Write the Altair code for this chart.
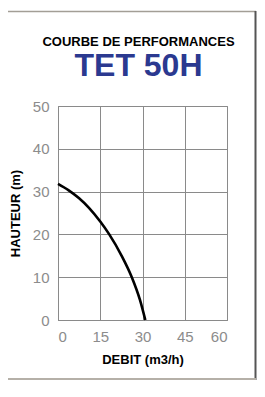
import altair as alt
import pandas as pd

# Data
debit = [0, 3.8, 7.4, 11, 15, 18.2, 22.6, 26.2, 29.1, 31]
hauteur = [31.8, 30.3, 28.5, 26.2, 23, 20, 15, 10, 4.7, 0]
x_ticks = [0, 15, 30, 45, 60]
y_ticks = [0, 10, 20, 30, 40, 50]

df = pd.DataFrame({"debit": debit, "hauteur": hauteur})
one = pd.DataFrame({"a": [0]})

FONT = "Liberation Sans"
GRID = "#8a8a8a"

curve = alt.Chart(df).mark_line(color="black", strokeWidth=2.6, interpolate="monotone").encode(
    x=alt.X("debit:Q",
            scale=alt.Scale(domain=[0, 60], nice=False, zero=False),
            axis=alt.Axis(values=x_ticks, title="DEBIT (m3/h)", grid=True, ticks=False,
                          labelPadding=9, titlePadding=9)),
    y=alt.Y("hauteur:Q",
            scale=alt.Scale(domain=[0, 50], nice=False),
            axis=alt.Axis(values=y_ticks, title="HAUTEUR (m)", grid=True, ticks=False,
                          labelPadding=9, titlePadding=10)),
)

# decorative frame around the figure
top_line = alt.Chart(one).mark_rule(color="#a39e96", strokeWidth=1.5).encode(
    x=alt.value(-51), x2=alt.value(198), y=alt.value(-94.5))
right_line = alt.Chart(one).mark_rule(color="#555555", strokeWidth=2).encode(
    x=alt.value(197.5), y=alt.value(-95), y2=alt.value(274))
bottom_line = alt.Chart(one).mark_rule(color="#b5b0a8", strokeWidth=2).encode(
    x=alt.value(-51), x2=alt.value(198), y=alt.value(273))

chart = alt.layer(curve, top_line, right_line, bottom_line).properties(
    width=169,
    height=214,
    autosize=alt.AutoSizeParams(type="none"),
    padding={"left": 50, "top": 98, "right": 30, "bottom": 61},
    title=alt.TitleParams(
        text="COURBE DE PERFORMANCES",
        subtitle="TET 50H",
        anchor="middle",
        dx=-4,
        offset=-72,
        font=FONT,
        fontSize=13,
        fontWeight="bold",
        color="black",
        subtitleFont=FONT,
        subtitleFontSize=32,
        subtitleFontWeight="bold",
        subtitleColor="#2b3990",
        subtitlePadding=2,
    ),
).configure_view(
    stroke=GRID, strokeWidth=1
).configure_axis(
    gridColor=GRID, gridOpacity=1, gridWidth=1,
    domainColor=GRID, domainWidth=1,
    labelFont=FONT, labelFontSize=15, labelColor="#8c8c8c",
    titleFont=FONT, titleFontSize=13, titleFontWeight="bold", titleColor="black",
)

chart.save("out.html", embed_options={"renderer": "svg", "actions": False})
